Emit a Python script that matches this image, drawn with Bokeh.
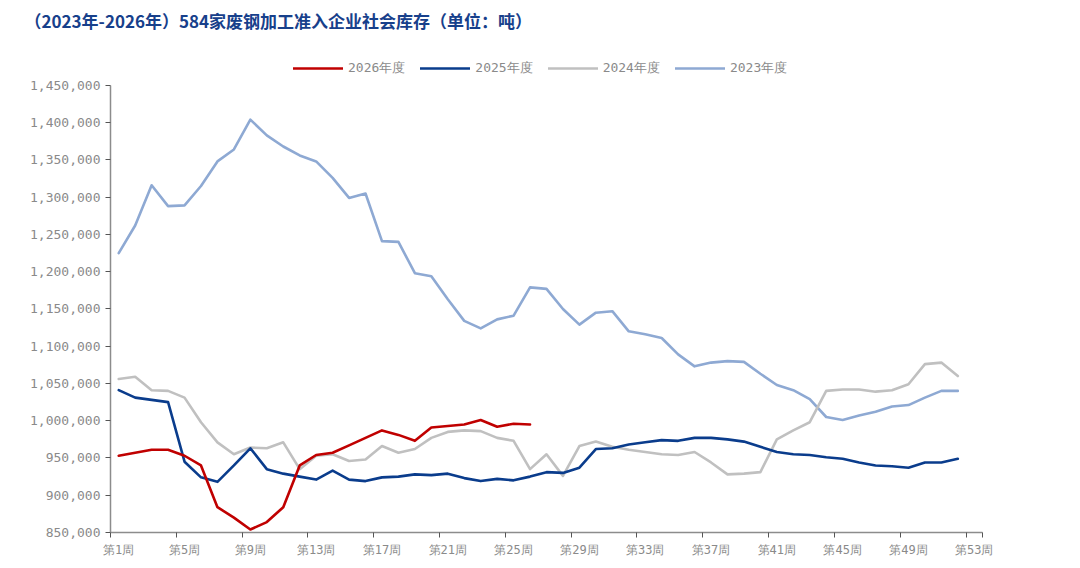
from bokeh.plotting import figure
from bokeh.models import (Range1d, FixedTicker, NumeralTickFormatter, Legend, LegendItem,
                          ColumnDataSource)
from bokeh.embed import file_html
from bokeh.resources import INLINE

TITLE = "（2023年-2026年）584家废钢加工准入企业社会库存（单位：吨）"
week_label_ticks = [1, 5, 9, 13, 17, 21, 25, 29, 33, 37, 41, 45, 49, 53]
week_labels = {w: "第%d周" % w for w in week_label_ticks}
y_ticks = list(range(850000, 1450001, 50000))

weeks_full = list(range(1, 53))
weeks_2026 = list(range(1, 27))

y2023 = [1225000, 1262000, 1316000, 1288000, 1289000, 1315000, 1348000, 1364000, 1404000, 1383000,
         1368000, 1356000, 1348000, 1326000, 1299000, 1305000, 1241000, 1240000, 1198000, 1194000,
         1163000, 1134000, 1124000, 1136000, 1141000, 1179000, 1177000, 1150000, 1129000, 1145000,
         1147000, 1120000, 1116000, 1111000, 1089000, 1073000, 1078000, 1080000, 1079000, 1063000,
         1048000, 1041000, 1029000, 1005000, 1001000, 1007000, 1012000, 1019000, 1021000, 1031000,
         1040000, 1040000]
y2024 = [1056000, 1059000, 1041000, 1040000, 1031000, 998000, 971000, 955000, 964000, 963000,
         971000, 935000, 953000, 955000, 946000, 948000, 966000, 957000, 962000, 977000,
         985000, 987000, 986000, 977000, 973000, 935000, 955000, 926000, 966000, 972000,
         965000, 961000, 958000, 955000, 954000, 958000, 944000, 928000, 929000, 931000,
         975000, 987000, 998000, 1040000, 1042000, 1042000, 1039000, 1041000, 1049000, 1076000,
         1078000, 1060000]
y2025 = [1041000, 1031000, 1028000, 1025000, 945000, 924000, 918000, 940000, 963000, 935000,
         929000, 925000, 921000, 933000, 921000, 919000, 924000, 925000, 928000, 927000,
         929000, 923000, 919000, 922000, 920000, 925000, 931000, 930000, 937000, 962000,
         963000, 968000, 971000, 974000, 973000, 977000, 977000, 975000, 972000, 965000,
         958000, 955000, 954000, 951000, 949000, 944000, 940000, 939000, 937000, 944000,
         944000, 949000]
y2026 = [953000, 957000, 961000, 961000, 953000, 940000, 884000, 870000, 854000, 864000,
         884000, 940000, 954000, 957000, 967000, 977000, 987000, 981000, 973000, 991000,
         993000, 995000, 1001000, 992000, 996000, 995000]

series = [
    ("2023年度", weeks_full, y2023, "#8EA9D3"),
    ("2024年度", weeks_full, y2024, "#C0C0C0"),
    ("2025年度", weeks_full, y2025, "#0A3C8C"),
    ("2026年度", weeks_2026, y2026, "#C00000"),
]

MONO = "DejaVu Sans Mono"
GREY = "#8a8a8a"

# frame spans 36..532 px; 850,000..1,450,000 spans 448 px
FRAME_TOP = 36
y_top = 850000 + (532 - FRAME_TOP) * 600000 / 448

p = figure(width=1072, height=560, output_backend="svg", toolbar_location=None,
           x_range=Range1d(0.5, 53.5), y_range=Range1d(850000, y_top),
           min_border_left=110, min_border_right=90, min_border_top=FRAME_TOP,
           min_border_bottom=28)
p.title.text = TITLE
p.title.text_font = "Noto Sans CJK SC"
p.title.text_font_size = "17px"
p.title.text_font_style = "bold"
p.title.text_color = "#17408B"
p.title.align = "left"
p.title.offset = -86
p.title.standoff = 10
p.outline_line_color = None
p.xgrid.visible = False
p.ygrid.visible = False
p.background_fill_color = "white"
p.border_fill_color = "white"

renderers = {}
for name, xs, ys, color in series:
    src = ColumnDataSource(dict(x=xs, y=ys))
    r = p.line("x", "y", source=src, line_color=color, line_width=2.6,
               line_join="round", line_cap="round")
    renderers[name] = r

order = ["2026年度", "2025年度", "2024年度", "2023年度"]
legend = Legend(items=[LegendItem(label=n, renderers=[renderers[n]]) for n in order],
                orientation="horizontal", location=(183, 454),
                glyph_width=50, glyph_height=20, label_standoff=5, spacing=15,
                padding=0, margin=0, border_line_color=None, background_fill_alpha=0,
                label_text_font=MONO, label_text_font_size="13px", label_text_color=GREY)
p.add_layout(legend, "center")

xa = p.xaxis[0]
xa.ticker = FixedTicker(ticks=week_label_ticks,
                        minor_ticks=[w - 0.5 for w in week_label_ticks] + [53.5])
xa.major_label_overrides = week_labels
xa.major_tick_line_color = None
xa.major_tick_out = 5
xa.major_tick_in = 0
xa.minor_tick_out = 5
xa.minor_tick_in = 0
xa.minor_tick_line_color = "#555555"
xa.axis_line_color = "#8c8c8c"
xa.axis_line_width = 1.5
xa.major_label_standoff = 5
xa.major_label_text_font = MONO
xa.major_label_text_font_size = "12px"
xa.major_label_text_color = GREY

ya = p.yaxis[0]
ya.ticker = FixedTicker(ticks=y_ticks)
ya.bounds = (y_ticks[0], y_ticks[-1])
ya.formatter = NumeralTickFormatter(format="0,0")
ya.major_tick_out = 5
ya.major_tick_in = 0
ya.minor_tick_line_color = None
ya.major_tick_line_color = "#555555"
ya.axis_line_color = "#8c8c8c"
ya.axis_line_width = 1.5
ya.major_label_standoff = 5
ya.major_label_text_font = MONO
ya.major_label_text_font_size = "13px"
ya.major_label_text_color = GREY

open("out.html", "w").write(file_html(p, INLINE))
